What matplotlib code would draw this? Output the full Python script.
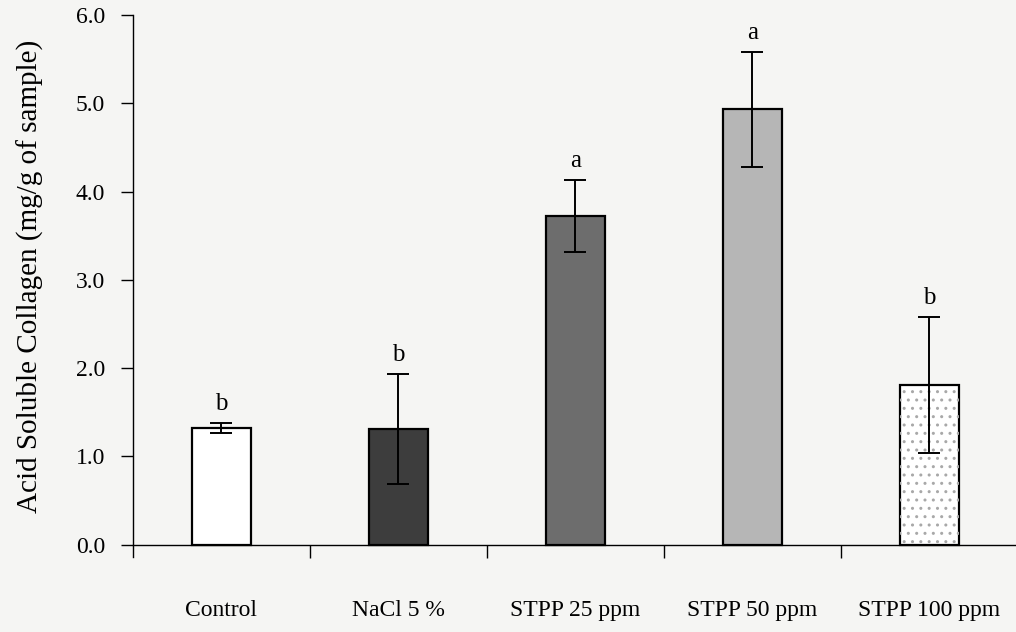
#bar chart of acid soluble collagen for each treatment
import matplotlib.pyplot as plt

#treatments, mean values and standard deviations
treatments = ["Control", "NaCl 5 %", "STPP 25 ppm", "STPP 50 ppm", "STPP 100 ppm"]
collagen = [1.32, 1.31, 3.72, 4.93, 1.81]
sd = [0.06, 0.62, 0.41, 0.65, 0.77]
letters = ["b", "b", "a", "a", "b"]

plt.rcParams['font.family'] = ['Liberation Serif', 'DejaVu Serif']

fig = plt.figure(figsize=(10.16, 6.32), dpi=100, facecolor='#f5f5f3')
ax = fig.add_axes([0.1309, 0.1187, 0.871, 0.8576])
ax.set_facecolor('none')

x = list(range(len(treatments)))
fills = ['white', '#3d3d3d', '#6d6d6d', '#b6b6b6', 'white']

ax.bar(x, collagen, width=0.335, color=fills, edgecolor='black', linewidth=1.6,
       yerr=sd, capsize=8,
       error_kw=dict(elinewidth=1.4, capthick=1.4, ecolor='black', zorder=4))

#dotted fill on the last bar
ax.bar(x[-1], collagen[-1], width=0.335, color='none', edgecolor='#a8a8a8',
       hatch='..', linewidth=0, zorder=2)
plt.rcParams['hatch.linewidth'] = 0.8

#significance letters above the error bars
for i in x:
    ax.text(i, collagen[i] + sd[i] + 0.09, letters[i], ha='center', va='bottom',
            fontsize=18)

#category names under the axis
for i in x:
    ax.text(i, -0.75, treatments[i], ha='center', va='center', fontsize=17)

ax.set_xlim(-0.5, 4.5)
ax.set_ylim(-0.14, 6.0)
ax.spines['top'].set_visible(False)
ax.spines['right'].set_visible(False)
ax.spines['bottom'].set_position(('data', 0))
ax.spines['left'].set_linewidth(1.0)
ax.spines['bottom'].set_linewidth(1.0)

ax.set_xticks([0.5, 1.5, 2.5, 3.5])
ax.set_xticklabels([])
ax.tick_params(axis='x', direction='out', length=9, width=1.0)

ax.set_yticks([0, 1, 2, 3, 4, 5, 6])
ax.set_yticklabels([f"{v:.1f}" for v in range(7)])
ax.tick_params(axis='y', direction='out', length=9, width=1.0, pad=11, labelsize=17)

fig.text(0.03, 0.563, "Acid Soluble Collagen (mg/g of sample)", rotation=90,
         ha='center', va='center', fontsize=21)

fig.savefig('out.png', dpi=100, facecolor=fig.get_facecolor())
